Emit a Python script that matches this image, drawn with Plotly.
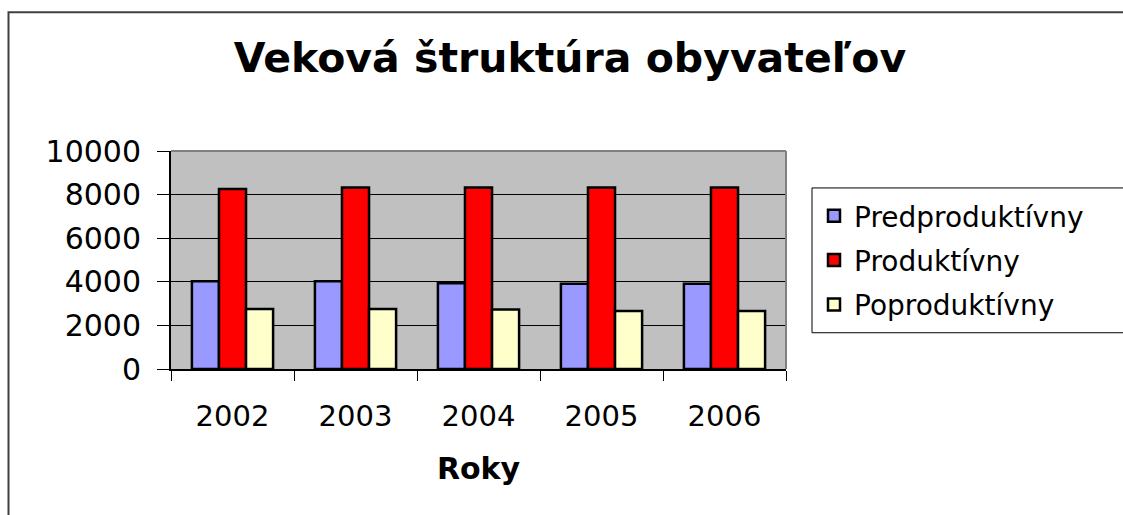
import plotly.graph_objects as go

years = ["2002", "2003", "2004", "2005", "2006"]
predproduktivny = [4030, 4020, 3930, 3910, 3910]
produktivny = [8260, 8330, 8330, 8330, 8330]
poproduktivny = [2750, 2750, 2730, 2660, 2660]

series_names = ["Predproduktívny", "Produktívny", "Poproduktívny"]
series_values = [predproduktivny, produktivny, poproduktivny]
series_colors = ["#9999FF", "#FF0000", "#FFFFCC"]

W, H = 1123, 515
L, R, T, B = 171, 786, 151, 369.3
pw, ph = R - L, B - T

def px(x):
    return (x - L) / pw

def py(y):
    return (B - y) / ph

fig = go.Figure()
for i, (name, vals, col) in enumerate(zip(series_names, series_values, series_colors)):
    fig.add_trace(go.Bar(
        x=years, y=vals, name=name,
        marker=dict(color=col, line=dict(color="black", width=2.5)),
        legendgroup=f"g{i}",
    ))

fig.update_layout(
    width=W, height=H,
    margin=dict(l=L, r=W - R, t=T, b=H - B, pad=0),
    paper_bgcolor="white",
    plot_bgcolor="#C0C0C0",
    barmode="group",
    bargap=0.34,
    bargroupgap=0,
    font=dict(family="DejaVu Sans", color="black"),
    title=dict(
        text="Veková štruktúra obyvateľov",
        font=dict(family="DejaVu Sans", size=41, color="black", weight="bold"),
        x=570 / W, xanchor="center", xref="container",
        y=1 - 58 / H, yanchor="middle", yref="container",
    ),
    legend=dict(
        x=px(814), y=py(191), xanchor="left", yanchor="top",
        bgcolor="rgba(0,0,0,0)", bordercolor="black", borderwidth=0,
        font=dict(family="DejaVu Sans", size=28, color="black"),
        tracegroupgap=5,
    ),
    showlegend=True,
)

fig.update_xaxes(
    type="category",
    tickson="boundaries",
    ticks="outside", ticklen=10, tickcolor="black", tickwidth=1,
    tickfont=dict(family="DejaVu Sans", size=29, color="black"),
    ticklabelstandoff=20,
    showline=True, linecolor="black", linewidth=2,
    showgrid=False,
    title=dict(text="<b>Roky</b>", font=dict(family="DejaVu Sans", size=30, color="black"), standoff=26),
)
fig.update_yaxes(
    range=[0, 10000], dtick=2000, tick0=0, tickformat="d",
    ticks="outside", ticklen=12, tickcolor="black", tickwidth=1,
    tickfont=dict(family="DejaVu Sans", size=30, color="black"),
    ticklabelstandoff=10,
    showline=True, linecolor="black", linewidth=2,
    showgrid=True, gridcolor="black", gridwidth=1,
    zeroline=False,
)

# plot area top/right border (gray)
fig.add_shape(type="line", xref="paper", yref="paper", x0=0, x1=1, y0=1, y1=1,
              line=dict(color="#808080", width=2), layer="above")
fig.add_shape(type="line", xref="paper", yref="paper", x0=1, x1=1, y0=0, y1=1,
              line=dict(color="#808080", width=2), layer="above")
# legend box (extends past the right edge as in the original)
fig.add_shape(type="rect", xref="paper", yref="paper",
              x0=px(812), x1=px(1140), y0=py(333), y1=py(188),
              line=dict(color="black", width=1), fillcolor="white", layer="below")
# outer chart frame
fig.add_shape(type="rect", xref="paper", yref="paper",
              x0=px(8.5), x1=px(1140), y0=py(530), y1=py(12),
              line=dict(color="#404040", width=2), fillcolor="rgba(0,0,0,0)", layer="below")

fig.write_html("out.html", config={"displayModeBar": False},
               post_script="document.body.style.margin='0';document.body.style.overflow='hidden';")
